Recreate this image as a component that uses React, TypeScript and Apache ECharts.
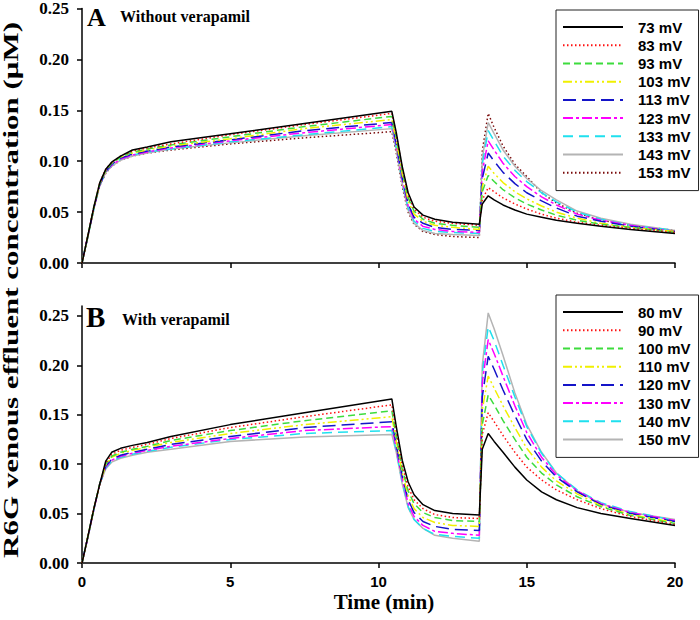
import React, { useEffect, useRef } from "react";
import * as echarts from "echarts";

// time points (min)
const T = [0, 0.2, 0.4, 0.6, 0.8, 1.0, 1.3, 1.7, 2.2, 3, 5, 7.5, 10.45, 10.6, 10.8, 11.0, 11.2, 11.5, 11.9, 12.5, 13.4, 13.5, 13.7, 13.9, 14.2, 14.6, 15, 15.5, 16, 16.7, 17.5, 18.5, 20];

// Panel A: without verapamil
const A_NAMES = ["73 mV", "83 mV", "93 mV", "103 mV", "113 mV", "123 mV", "133 mV", "143 mV", "153 mV"];
const A73 = [0, 0.027, 0.055, 0.079, 0.092, 0.099, 0.105, 0.111, 0.114, 0.119, 0.127, 0.137, 0.149, 0.128, 0.095, 0.069, 0.055, 0.047, 0.043, 0.040, 0.038, 0.058, 0.066, 0.062, 0.057, 0.052, 0.048, 0.045, 0.042, 0.039, 0.036, 0.033, 0.029];
const A83 = [0, 0.027, 0.055, 0.079, 0.092, 0.099, 0.105, 0.110, 0.113, 0.117, 0.126, 0.136, 0.147, 0.126, 0.093, 0.067, 0.053, 0.045, 0.041, 0.039, 0.037, 0.062, 0.074, 0.070, 0.064, 0.058, 0.053, 0.048, 0.044, 0.040, 0.037, 0.034, 0.030];
const A93 = [0, 0.027, 0.055, 0.078, 0.091, 0.098, 0.104, 0.109, 0.112, 0.116, 0.124, 0.134, 0.144, 0.123, 0.090, 0.064, 0.051, 0.043, 0.039, 0.037, 0.035, 0.070, 0.086, 0.080, 0.072, 0.064, 0.058, 0.052, 0.047, 0.042, 0.038, 0.035, 0.030];
const A103 = [0, 0.027, 0.054, 0.078, 0.091, 0.098, 0.104, 0.108, 0.111, 0.115, 0.122, 0.132, 0.141, 0.120, 0.087, 0.061, 0.048, 0.041, 0.037, 0.035, 0.033, 0.075, 0.095, 0.088, 0.079, 0.070, 0.063, 0.056, 0.050, 0.044, 0.039, 0.035, 0.031];
const A113 = [0, 0.027, 0.054, 0.077, 0.090, 0.097, 0.103, 0.107, 0.110, 0.114, 0.121, 0.130, 0.138, 0.117, 0.084, 0.058, 0.045, 0.039, 0.035, 0.033, 0.032, 0.083, 0.108, 0.100, 0.089, 0.078, 0.069, 0.061, 0.054, 0.046, 0.041, 0.036, 0.031];
const A123 = [0, 0.027, 0.054, 0.077, 0.090, 0.096, 0.102, 0.106, 0.109, 0.113, 0.120, 0.128, 0.136, 0.115, 0.082, 0.056, 0.043, 0.036, 0.033, 0.031, 0.030, 0.090, 0.120, 0.111, 0.098, 0.085, 0.075, 0.065, 0.057, 0.048, 0.042, 0.037, 0.031];
const A133 = [0, 0.026, 0.053, 0.077, 0.089, 0.096, 0.102, 0.106, 0.109, 0.112, 0.119, 0.126, 0.134, 0.113, 0.080, 0.054, 0.041, 0.034, 0.031, 0.030, 0.029, 0.097, 0.130, 0.120, 0.105, 0.091, 0.080, 0.069, 0.060, 0.050, 0.043, 0.037, 0.032];
const A143 = [0, 0.026, 0.053, 0.076, 0.089, 0.095, 0.101, 0.105, 0.108, 0.112, 0.118, 0.125, 0.132, 0.111, 0.078, 0.052, 0.039, 0.032, 0.029, 0.028, 0.027, 0.103, 0.138, 0.127, 0.111, 0.095, 0.083, 0.071, 0.062, 0.051, 0.044, 0.038, 0.032];
const A153 = [0, 0.026, 0.053, 0.076, 0.088, 0.095, 0.101, 0.105, 0.108, 0.111, 0.117, 0.123, 0.129, 0.108, 0.075, 0.050, 0.038, 0.031, 0.028, 0.026, 0.025, 0.110, 0.147, 0.133, 0.115, 0.097, 0.085, 0.069, 0.059, 0.049, 0.042, 0.037, 0.032];

// Panel B: with verapamil
const B_NAMES = ["80 mV", "90 mV", "100 mV", "110 mV", "120 mV", "130 mV", "140 mV", "150 mV"];
const B80 = [0, 0.027, 0.055, 0.080, 0.103, 0.112, 0.116, 0.119, 0.122, 0.128, 0.140, 0.152, 0.166, 0.138, 0.104, 0.082, 0.069, 0.059, 0.053, 0.050, 0.0486, 0.115, 0.131, 0.123, 0.112, 0.097, 0.084, 0.072, 0.064, 0.056, 0.050, 0.045, 0.038];
const B90 = [0, 0.027, 0.055, 0.080, 0.101, 0.110, 0.114, 0.117, 0.120, 0.126, 0.137, 0.148, 0.160, 0.133, 0.099, 0.077, 0.064, 0.055, 0.049, 0.046, 0.045, 0.130, 0.152, 0.143, 0.129, 0.112, 0.097, 0.084, 0.074, 0.064, 0.055, 0.047, 0.039];
const B100 = [0, 0.027, 0.055, 0.080, 0.100, 0.108, 0.112, 0.115, 0.118, 0.124, 0.134, 0.144, 0.154, 0.128, 0.095, 0.073, 0.060, 0.051, 0.046, 0.043, 0.042, 0.140, 0.170, 0.160, 0.144, 0.125, 0.107, 0.091, 0.079, 0.067, 0.057, 0.048, 0.040];
const B110 = [0, 0.027, 0.055, 0.080, 0.099, 0.107, 0.111, 0.114, 0.117, 0.122, 0.131, 0.140, 0.148, 0.123, 0.091, 0.068, 0.055, 0.046, 0.041, 0.038, 0.037, 0.155, 0.189, 0.177, 0.159, 0.137, 0.116, 0.097, 0.083, 0.070, 0.058, 0.049, 0.041];
const B120 = [0, 0.027, 0.055, 0.080, 0.098, 0.105, 0.109, 0.112, 0.115, 0.120, 0.128, 0.137, 0.143, 0.119, 0.088, 0.064, 0.051, 0.042, 0.037, 0.034, 0.033, 0.168, 0.209, 0.196, 0.175, 0.149, 0.125, 0.103, 0.087, 0.072, 0.059, 0.050, 0.042];
const B130 = [0, 0.026, 0.054, 0.080, 0.097, 0.104, 0.108, 0.111, 0.114, 0.118, 0.126, 0.134, 0.138, 0.116, 0.085, 0.060, 0.047, 0.038, 0.032, 0.030, 0.028, 0.182, 0.226, 0.212, 0.189, 0.159, 0.132, 0.107, 0.089, 0.073, 0.060, 0.051, 0.043];
const B140 = [0, 0.026, 0.054, 0.080, 0.096, 0.103, 0.107, 0.110, 0.113, 0.117, 0.125, 0.131, 0.134, 0.113, 0.082, 0.057, 0.044, 0.035, 0.029, 0.027, 0.025, 0.192, 0.239, 0.225, 0.200, 0.168, 0.138, 0.111, 0.091, 0.074, 0.061, 0.052, 0.043];
const B150 = [0, 0.026, 0.054, 0.080, 0.095, 0.102, 0.106, 0.109, 0.112, 0.115, 0.123, 0.1275, 0.130, 0.112, 0.080, 0.056, 0.044, 0.035, 0.028, 0.025, 0.022, 0.200, 0.253, 0.237, 0.210, 0.172, 0.140, 0.112, 0.091, 0.073, 0.060, 0.051, 0.044];

const Y_TICKS = [0, 0.05, 0.1, 0.15, 0.2, 0.25];

const A_VALUES = [A73, A83, A93, A103, A113, A123, A133, A143, A153];
const B_VALUES = [B80, B90, B100, B110, B120, B130, B140, B150];

const STYLES: { color: string; type: any }[] = [
  { color: "#000000", type: "solid" },
  { color: "#ff1010", type: [1.5, 2.5] },
  { color: "#3ddc3d", type: [7, 4] },
  { color: "#f0f000", type: [9, 3, 2, 3, 2, 3] },
  { color: "#1414c8", type: [13, 6] },
  { color: "#ff00ff", type: [10, 3, 3, 3] },
  { color: "#1fe0ee", type: [10, 6] },
  { color: "#b4b4b4", type: "solid" },
  { color: "#7a0a0a", type: [1.5, 2.5] },
];

const SERIF = '"Liberation Serif", "Times New Roman", serif';
const SANS = '"Liberation Sans", Arial, sans-serif';

function makeSeries(names: string[], values: number[][], axisIndex: number) {
  return names.map((name, k) => ({
    name,
    type: "line",
    xAxisIndex: axisIndex,
    yAxisIndex: axisIndex,
    symbol: "none",
    showSymbol: false,
    data: T.map((t, i) => [t, values[k][i]]),
    lineStyle: { color: STYLES[k].color, type: STYLES[k].type, width: 1.5 },
    itemStyle: { color: STYLES[k].color },
    z: 10 - k,
  }));
}

function legendCfg(names: string[], top: number) {
  return {
    data: names,
    orient: "vertical",
    left: 556,
    top,
    itemWidth: 60,
    itemHeight: 12,
    itemGap: 3.2,
    padding: [9.6, 8, 10.4, 6],
    borderColor: "#222",
    borderWidth: 1,
    backgroundColor: "#fff",
    selectedMode: false,
    itemStyle: { opacity: 0 },
    textStyle: { fontFamily: SANS, fontWeight: "bold", fontSize: 15, color: "#000", padding: [0, 0, 0, 10] },
  };
}

function xAxisCfg(gridIndex: number, showLabel: boolean) {
  return {
    type: "value",
    gridIndex,
    min: 0,
    max: 20,
    interval: 5,
    axisLine: { show: true, onZero: false, lineStyle: { color: "#000", width: 1.5 } },
    axisTick: { show: true, length: 5, lineStyle: { color: "#000", width: 1.5 } },
    axisLabel: { show: showLabel, fontFamily: SANS, fontWeight: "bold", fontSize: 15, color: "#000", margin: 11 },
    splitLine: { show: false },
  };
}

function yAxisCfg(gridIndex: number, max: number) {
  return {
    type: "value",
    gridIndex,
    min: 0,
    max,
    interval: 0.05,
    axisLine: { show: true, onZero: false, lineStyle: { color: "#000", width: 1.5 } },
    axisTick: { show: true, length: 5, customValues: Y_TICKS, lineStyle: { color: "#000", width: 1.5 } },
    axisLabel: {
      customValues: Y_TICKS,
      fontFamily: SERIF,
      fontWeight: "bold",
      fontSize: 17,
      color: "#000",
      margin: 13,
      formatter: (v: number) => v.toFixed(2),
    },
    splitLine: { show: false },
  };
}

export default function App() {
  const ref = useRef<HTMLDivElement>(null);
  useEffect(() => {
    if (!ref.current) return;
    const chart = echarts.init(ref.current, null, { renderer: "svg" });
    chart.setOption({
      animation: false,
      backgroundColor: "#fff",
      grid: [
        { left: 82, right: 25, top: 6, height: 257 },
        { left: 82, right: 25, top: 306, height: 257 },
      ],
      xAxis: [xAxisCfg(0, false), xAxisCfg(1, true)],
      yAxis: [yAxisCfg(0, 0.25), yAxisCfg(1, 0.26)],
      legend: [legendCfg(A_NAMES, 10), legendCfg(B_NAMES, 295)],
      series: [...makeSeries(A_NAMES, A_VALUES, 0), ...makeSeries(B_NAMES, B_VALUES, 1)],
      graphic: [
        {
          type: "text",
          x: 11,
          y: 290,
          rotation: Math.PI / 2,
          scaleX: 1.41,
          style: {
            text: "R6G venous effluent concentration (μM)",
            fontFamily: SERIF,
            fontWeight: "bold",
            fontSize: 22,
            fill: "#000",
            align: "center",
            verticalAlign: "middle",
          },
        },
        {
          type: "text",
          x: 384,
          y: 602,
          style: { text: "Time (min)", fontFamily: SERIF, fontWeight: "bold", fontSize: 21, fill: "#000", align: "center", verticalAlign: "middle" },
        },
        {
          type: "text",
          x: 87,
          y: 17,
          style: { text: "A", fontFamily: SERIF, fontWeight: "bold", fontSize: 26, fill: "#000", align: "left", verticalAlign: "middle" },
        },
        {
          type: "text",
          x: 120,
          y: 16,
          style: { text: "Without verapamil", fontFamily: SERIF, fontWeight: "bold", fontSize: 16, fill: "#000", align: "left", verticalAlign: "middle" },
        },
        {
          type: "text",
          x: 86,
          y: 317,
          style: { text: "B", fontFamily: SERIF, fontWeight: "bold", fontSize: 29, fill: "#000", align: "left", verticalAlign: "middle" },
        },
        {
          type: "text",
          x: 122,
          y: 319,
          style: { text: "With verapamil", fontFamily: SERIF, fontWeight: "bold", fontSize: 16, fill: "#000", align: "left", verticalAlign: "middle" },
        },
      ],
    });
    return () => chart.dispose();
  }, []);
  return <div ref={ref} style={{ position: "absolute", left: 0, top: 0, width: 700, height: 620 }} />;
}
